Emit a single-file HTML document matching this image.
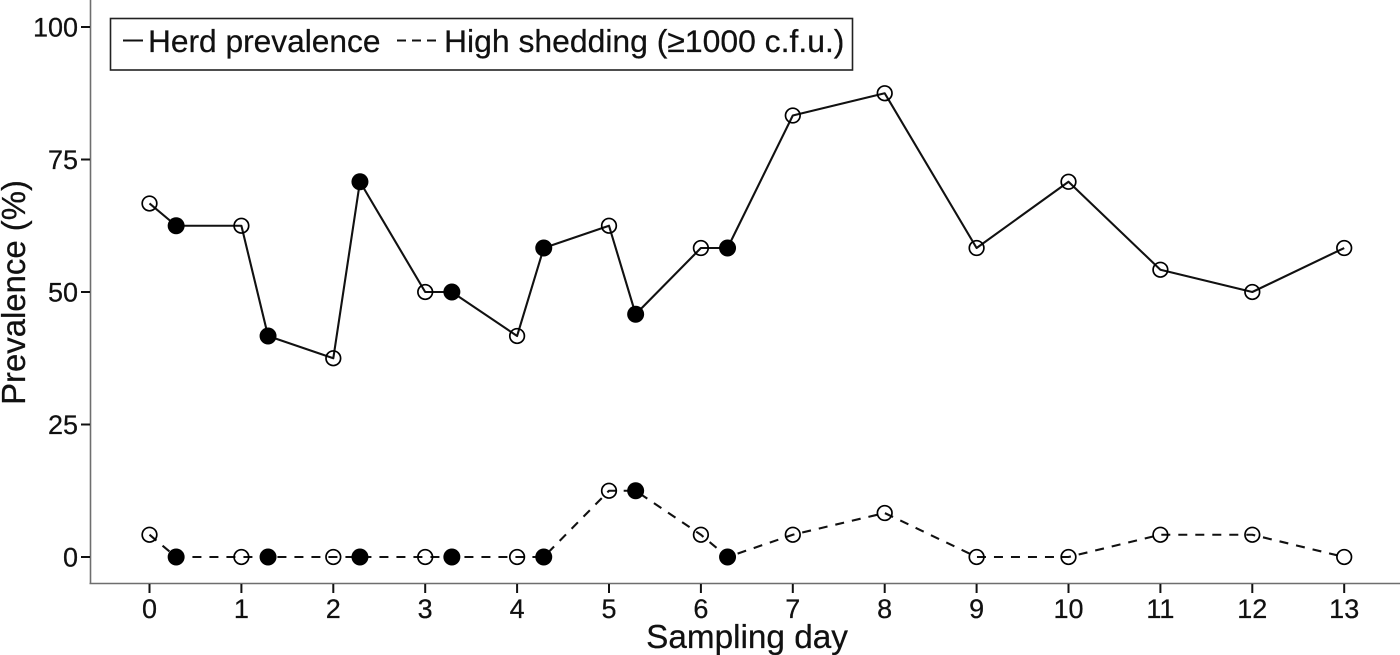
<!DOCTYPE html>
<html lang="en">
<head>
<meta charset="utf-8">
<title>Prevalence by sampling day</title>
<style>
html,body{margin:0;padding:0;background:#fff;width:1400px;height:655px;overflow:hidden}
svg{display:block}
text{font-family:"Liberation Sans",Arial,sans-serif;fill:#111;stroke:#111;stroke-width:0.25}
</style>
</head>
<body>
<svg id="chart" width="1400" height="655" viewBox="0 0 1400 655" xmlns="http://www.w3.org/2000/svg"></svg>
<script>
const herdDays = [0,0.29,1,1.29,2,2.29,3,3.29,4,4.29,5,5.29,6,6.29,7,8,9,10,11,12,13];
const herdValues = [66.7,62.5,62.5,41.7,37.5,70.8,50,50,41.7,58.3,62.5,45.8,58.3,58.3,83.3,87.5,58.3,70.8,54.2,50,58.3];
const sheddingDays = [0,0.29,1,1.29,2,2.29,3,3.29,4,4.29,5,5.29,6,6.29,7,8,9,10,11,12,13];
const sheddingValues = [4.2,0,0,0,0,0,0,0,0,0,12.5,12.5,4.2,0,4.2,8.3,0,0,4.2,4.2,0];
const filledDays = [0.29,1.29,2.29,3.29,4.29,5.29,6.29];
const xTicks = [0,1,2,3,4,5,6,7,8,9,10,11,12,13];
const yTicks = [0,25,50,75,100];

const NS = 'http://www.w3.org/2000/svg';
const svg = document.getElementById('chart');
const xScale = d => 149.5 + d * 91.9;
const yScale = v => 557 - v * 5.3;

function make(tag, attrs, parent) {
  const el = document.createElementNS(NS, tag);
  for (const k in attrs) el.setAttribute(k, attrs[k]);
  (parent || svg).appendChild(el);
  return el;
}

// axes
const xAxis = make('line', {x1:89.5,y1:583.5,x2:1400,y2:583.5,stroke:'#6e6e6e','stroke-width':1.6});


const yAxis = make('line', {x1:90.5,y1:0,x2:90.5,y2:584,stroke:'#6e6e6e','stroke-width':1.6});



xTicks.forEach(t => {
  const tick = make('line', {x1:xScale(t),y1:584,x2:xScale(t),y2:593,stroke:'#111','stroke-width':2});
  
  
  const label = make('text', {x:xScale(t),y:618,'text-anchor':'middle','font-size':27});
  
  
  label.textContent = t;
});
yTicks.forEach(t => {
  const tick = make('line', {x1:81,y1:yScale(t),x2:90,y2:yScale(t),stroke:'#111','stroke-width':2});
  
  
  const label = make('text', {x:78,y:yScale(t)+9.7,'text-anchor':'end','font-size':27});
  
  
  label.textContent = t;
});

function drawSeries(days, values, dash, name) {
  const pts = days.map((d,i) => xScale(d).toFixed(2) + ',' + yScale(values[i]).toFixed(2)).join(' ');
  const line = make('polyline', {points:pts,fill:'none',stroke:'#111','stroke-width':2.1,'stroke-linejoin':'round'});
  if (dash) line.setAttribute('stroke-dasharray', dash);
  
  
  days.forEach((d,i) => {
    const filled = filledDays.includes(d);
    const c = make('circle', {cx:xScale(d),cy:yScale(values[i]),r:filled?8.5:7.3,fill:filled?'#000':'none',stroke:'#000','stroke-width':filled?0:1.7});
    
    
  });
}
drawSeries(herdDays, herdValues, null, 'herd-prevalence');
drawSeries(sheddingDays, sheddingValues, '9 8', 'high-shedding');

// axis titles
const xTitle = make('text', {x:747,y:648,'text-anchor':'middle','font-size':33.3});


xTitle.textContent = 'Sampling day';
const yTitle = make('text', {x:0,y:0,'text-anchor':'middle','font-size':32.9,transform:'translate(25,292.5) rotate(-90)'});


yTitle.textContent = 'Prevalence (%)';

// legend
const legend = make('g', {});


const legendBox = make('rect', {x:110.5,y:18.5,width:742,height:51.5,fill:'#fff',stroke:'#222','stroke-width':1.6}, legend);


const herdKey = make('line', {x1:123,y1:40.5,x2:143,y2:40.5,stroke:'#111','stroke-width':2}, legend);


const herdText = make('text', {x:148,y:52,'font-size':31.7}, legend);


herdText.textContent = 'Herd prevalence';
const shedKey = make('line', {x1:397,y1:40.5,x2:436,y2:40.5,stroke:'#111','stroke-width':2,'stroke-dasharray':'9 6'}, legend);


const shedText = make('text', {x:444,y:52,'font-size':31.9}, legend);


shedText.textContent = 'High shedding (≥1000 c.f.u.)';
</script>
</body>
</html>
